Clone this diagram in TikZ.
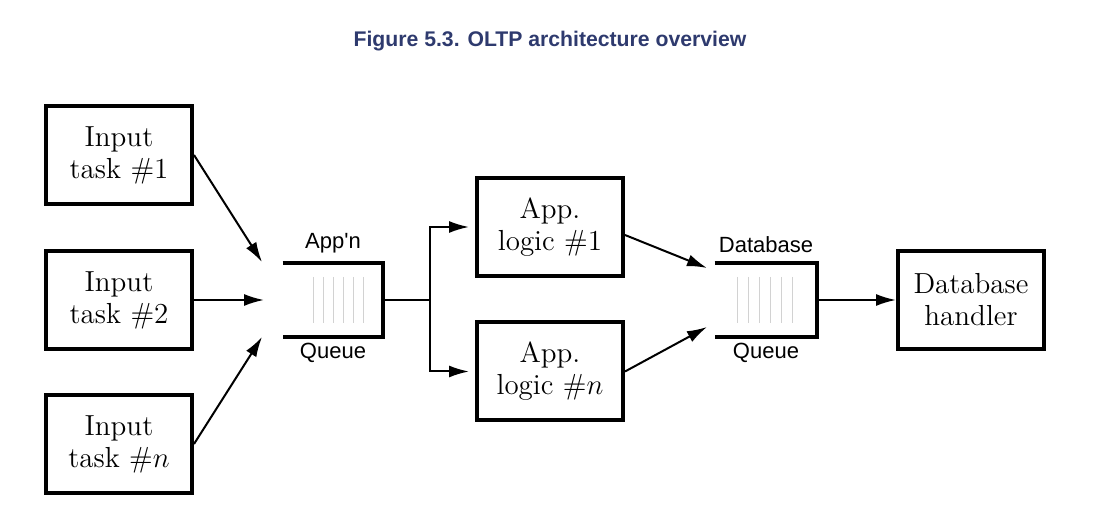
\documentclass[tikz,border=0pt]{standalone}
\usepackage{fontspec}
\newfontfamily\labelfont{Liberation Sans}
\usepackage{tikz}
\usetikzlibrary{arrows.meta}
\definecolor{titleblue}{RGB}{46,58,110}

\begin{document}
\begin{tikzpicture}[x=0.5pt,y=-0.5pt]
		\tikzstyle{every node}+=[inner sep=0pt]
		\tikzstyle{taskbox}=[draw,line width=2pt,minimum width=73pt,minimum height=49pt,align=center,font=\fontsize{14.5}{16}\selectfont]
		\tikzstyle{queue}=[minimum width=50pt,minimum height=36.5pt]
		\tikzstyle{queuelabel}=[font=\labelfont\fontsize{11}{13}\selectfont]
		\tikzstyle{flow}=[line width=1pt,-{Latex[length=10pt,width=6pt]}]
		\useasboundingbox (0,0) rectangle (1096,522);
		\node [font=\labelfont\bfseries\fontsize{10.6}{13}\selectfont,text=titleblue] (title) at (550,41) {Figure 5.3. OLTP architecture overview};
		% input tasks
		\node [taskbox] (task1) at (119,155) {Input\\task \#1};
		\node [taskbox] (task2) at (119,300) {Input\\task \#2};
		\node [taskbox] (taskn) at (119,444) {Input\\task \#$n$};
		% app'n queue
		\node [queue] (appq) at (333,300) {};
		\draw [line width=2pt] (appq.north west) -- (appq.north east) -- (appq.south east) -- (appq.south west);
		\foreach \i in {0,...,5}
			\draw [gray!35,line width=0.3pt] (313+10*\i,277) -- (313+10*\i,323);
		\node [queuelabel,anchor=south] (appqtop) at ([yshift=5pt]appq.north) {App'n};
		\node [queuelabel,anchor=north] (appqbot) at ([yshift=-3pt]appq.south) {Queue};
		\coordinate (in1) at (262,262);
		\coordinate (in2) at (264,300);
		\coordinate (inn) at (262,337);
		\draw [flow] (task1.east) -- (in1);
		\draw [flow] (task2.east) -- (in2);
		\draw [flow] (taskn.east) -- (inn);
		% app logic
		\node [taskbox] (logic1) at (550,227) {App.\\logic \#1};
		\node [taskbox] (logicn) at (550,371.5) {App.\\logic \#$n$};
		\coordinate (fork) at (430,300);
		\draw [line width=1pt] (appq.east) -- (fork);
		\draw [flow,shorten >=3pt] (fork) |- (logic1.west);
		\draw [flow,shorten >=3pt] (fork) |- (logicn.west);
		% database queue
		\node [queue,minimum width=51pt] (dbq) at (766,300) {};
		\draw [line width=2pt] (dbq.north west) -- (dbq.north east) -- (dbq.south east) -- (dbq.south west);
		\foreach \i in {0,...,5}
			\draw [gray!35,line width=0.3pt] (737+11*\i,277) -- (737+11*\i,323);
		\node [queuelabel,anchor=south] (dbqtop) at ([yshift=5pt]dbq.north) {Database};
		\node [queuelabel,anchor=north] (dbqbot) at ([yshift=-3pt]dbq.south) {Queue};
		\coordinate (db1) at (707,268);
		\coordinate (dbn) at (707,327);
		\draw [flow] ([yshift=-4pt]logic1.east) -- (db1);
		\draw [flow] (logicn.east) -- (dbn);
		% handler
		\node [taskbox] (handler) at (971,300) {Database\\handler};
		\draw [flow] (dbq.east) -- (handler.west);
		\end{tikzpicture}
\end{document}
